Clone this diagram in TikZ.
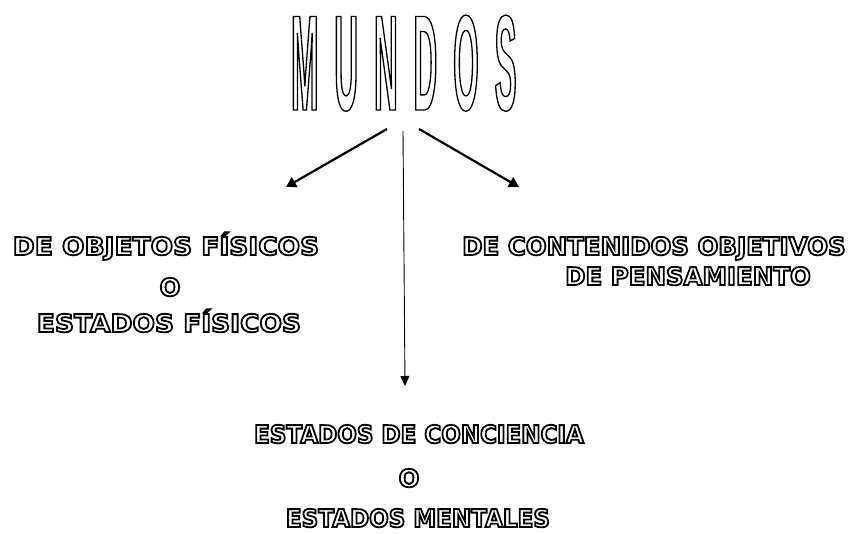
\documentclass[tikz,border=0pt]{standalone}
\usepackage{fontspec}
\usetikzlibrary{arrows.meta}
\setmainfont{DejaVu Sans}
\newfontfamily\mundosfont[FakeStretch=0.24,LetterSpace=11.8]{Liberation Sans Bold}
\newfontfamily\rotulofont{DejaVu Sans Bold}
\newfontfamily\rotuloancho[FakeStretch=1.08]{DejaVu Sans Bold}
\newfontfamily\rotuloestrecho[FakeStretch=0.94]{DejaVu Sans Bold}
\newcommand{\hueco}[2][1.8]{\special{pdf:literal direct 1 Tr #1 w}#2\special{pdf:literal direct 0 Tr}}

\begin{document}
\begin{tikzpicture}[x=1pt,y=-1pt]
\tikzset{every node/.style={inner sep=0pt,anchor=base}}
\tikzset{rotulo/.style={font=#1\fontsize{24.5}{30}\selectfont},rotulo/.default=\rotulofont}
\tikzset{flechagruesa/.style={line width=2.2pt,-{Triangle[length=10pt,width=11pt]}}}
\tikzset{flechafina/.style={line width=0.9pt,-{Triangle[length=10pt,width=9pt]}}}

\useasboundingbox[fill=white] (0,0) rectangle (859,534);

\node[font=\mundosfont\fontsize{136}{140}\selectfont,anchor=base west] (mundos) at (291,110) {\hueco[1.3]{MUNDOS}};

\node[rotulo=\rotuloancho] (fis1) at (166,255) {\hueco{DE OBJETOS FÍSICOS}};
\node[rotulo] (fis2) at (170,296) {\hueco{O}};
\node[rotulo=\rotuloancho] (fis3) at (169,332) {\hueco{ESTADOS FÍSICOS}};

\node[rotulo] (cont1) at (654,255) {\hueco{DE CONTENIDOS OBJETIVOS}};
\node[rotulo] (cont2) at (688,285) {\hueco{DE PENSAMIENTO}};

\node[rotulo=\rotuloestrecho] (conc1) at (419,443) {\hueco{ESTADOS DE CONCIENCIA}};
\node[rotulo] (conc2) at (409,487) {\hueco{O}};
\node[rotulo=\rotuloestrecho] (conc3) at (418,527) {\hueco{ESTADOS MENTALES}};

\coordinate (salidaI) at (387,129);
\coordinate (puntaI) at (286,187);
\coordinate (salidaD) at (419,129);
\coordinate (puntaD) at (519,187);
\coordinate (salidaC) at (403,131);
\coordinate (puntaC) at (405,386);

\draw[flechagruesa] (salidaI) -- (puntaI);
\draw[flechagruesa] (salidaD) -- (puntaD);
\draw[flechafina] (salidaC) -- (puntaC);

\end{tikzpicture}
\end{document}
